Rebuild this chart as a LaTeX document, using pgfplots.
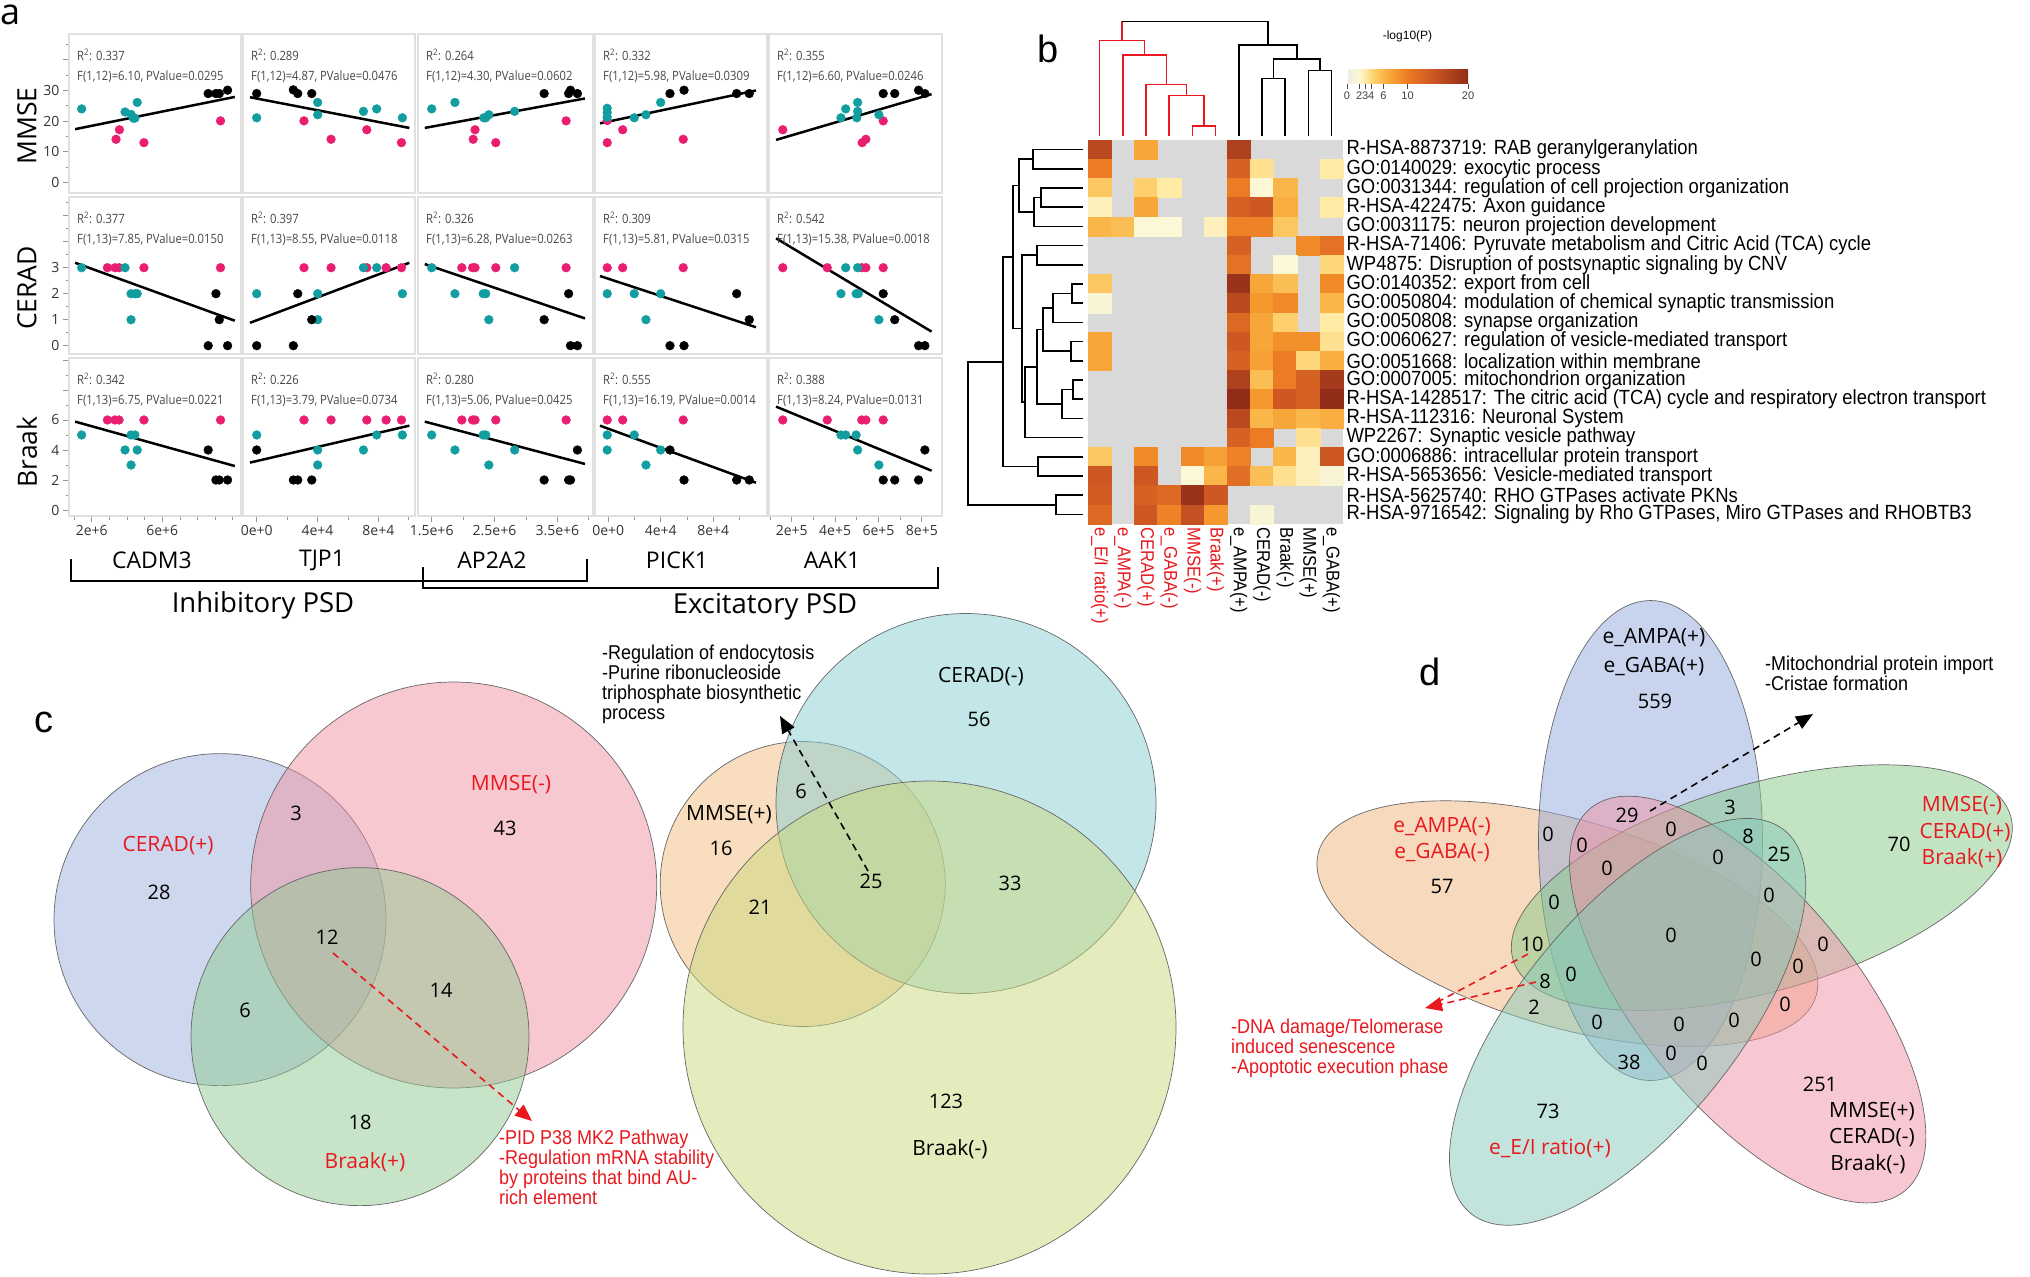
\documentclass[border=0pt]{standalone}
\usepackage{fontspec}
\setmainfont{Open Sans}
\newfontfamily\arialf{Liberation Sans}
\newfontfamily\narrowf[FakeStretch=0.9]{Liberation Sans}
\newfontfamily\statf[FakeStretch=0.88]{Open Sans}
\usepackage{pgfplots}
\pgfplotsset{compat=1.18}
\usetikzlibrary{arrows.meta}

\newcommand{\fs}[1]{\fontsize{#1}{#1}\selectfont}

\definecolor{dteal}{RGB}{18,158,160}
\definecolor{dpink}{RGB}{234,30,112}
\definecolor{framec}{RGB}{224,224,224}
\definecolor{tickc}{RGB}{150,150,150}
\definecolor{statc}{RGB}{70,70,70}
\definecolor{hmgray}{RGB}{217,217,217}
\definecolor{vred}{RGB}{232,24,30}
% venn c
\definecolor{cBlue}{RGB}{155,175,221}
\definecolor{cPink}{RGB}{239,145,161}
\definecolor{cGreen}{RGB}{145,201,145}
\definecolor{cOrange}{RGB}{241,189,125}
\definecolor{cTeal}{RGB}{135,205,209}
\definecolor{cYG}{RGB}{201,217,125}
% venn d
\definecolor{dBlue}{RGB}{145,169,221}
\definecolor{dOrange}{RGB}{239,181,125}
\definecolor{dGreen}{RGB}{135,201,135}
\definecolor{dPink}{RGB}{241,145,165}
\definecolor{dTeal}{RGB}{135,201,185}

\tikzset{vs/.style={draw=black!60, line width=0.7pt, fill opacity=0.5}}

\pgfplotsset{
  colormap={hm}{rgb255(0pt)=(238,238,226) rgb255(2pt)=(252,247,212) rgb255(3pt)=(255,234,166)
    rgb255(4pt)=(254,215,122) rgb255(6pt)=(250,182,72) rgb255(8pt)=(245,152,45)
    rgb255(10pt)=(235,123,36) rgb255(14pt)=(206,88,35) rgb255(20pt)=(145,44,25)},
  sc/.style={scale only axis, anchor=north west,
    axis line style={draw=framec, line width=1.8pt},
    tick pos=left, tick align=outside, xtick=\empty, ytick=\empty,
    tick style={draw=tickc, line width=0.8pt}, major tick length=6pt, minor tick length=3.5pt,
    ticklabel style={font={\fs{14}}, text=black!80},
    scaled ticks=false, clip=false},
  rA/.style={ymin=-3.4, ymax=48.4, height=159pt},
  rB/.style={ymin=-0.32, ymax=5.72, height=157pt},
  rC/.style={ymin=-0.4, ymax=10.13, height=158pt},
  yA/.style={ytick={0,10,20,30,40}, yticklabels={0,10,20,30,}, minor ytick={5,15,25,35,45}},
  yB/.style={ytick={0,1,2,3,4,5}, yticklabels={0,1,2,3,,}, minor ytick={0.5,1.5,2.5,3.5,4.5,5.5}},
  yC/.style={ytick={0,2,4,6,8,10}, yticklabels={0,2,4,6,,}, minor ytick={1,3,5,7,9}},
  c1/.style={xmin=0.714e6, xmax=10.46e6, width=172pt},
  c2/.style={xmin=-0.90e4, xmax=10.41e4, width=172pt},
  c3/.style={xmin=1.282e6, xmax=4.068e6, width=175pt},
  c4/.style={xmin=-1.01e4, xmax=12.09e4, width=172pt},
  c5/.style={xmin=0.954e5, xmax=8.93e5, width=173pt},
  x1/.style={xtick={2e6,6e6}, xticklabels={2e+6,6e+6}, minor xtick={1e6,3e6,4e6,5e6,7e6,8e6,9e6,10e6}},
  x2/.style={xtick={0,4e4,8e4}, xticklabels={0e+0,4e+4,8e+4}, minor xtick={2e4,6e4,10e4}},
  x3/.style={xtick={1.5e6,2.5e6,3.5e6}, xticklabels={1.5e+6,2.5e+6,3.5e+6}, minor xtick={2e6,3e6,4e6}},
  x4/.style={xtick={0,4e4,8e4}, xticklabels={0e+0,4e+4,8e+4}, minor xtick={2e4,6e4,10e4}},
  x5/.style={xtick={2e5,4e5,6e5,8e5}, xticklabels={2e+5,4e+5,6e+5,8e+5}, minor xtick={1e5,3e5,5e5,7e5}},
  tm/.style={only marks, mark=*, mark size=4.4pt, color=dteal},
  pm/.style={only marks, mark=*, mark size=4.4pt, color=dpink},
  bm/.style={only marks, mark=*, mark size=4.4pt, color=black},
  fit/.style={black, line width=2.5pt, mark=none},
  dred/.style={vred, line width=1.6pt, mark=none},
  dblk/.style={black, line width=1.5pt, mark=none},
}

\newcommand{\stat}[2]{%
  \node[anchor=west, inner sep=0pt, font={\statf\fs{12.8}}, text=statc, xshift=8pt, yshift=-21pt] at (rel axis cs:0,1) {R\textsuperscript{2}: #1};
  \node[anchor=west, inner sep=0pt, font={\statf\fs{12.8}}, text=statc, xshift=8pt, yshift=-43pt] at (rel axis cs:0,1) {#2};}

\begin{document}
\begin{tikzpicture}
\useasboundingbox (0pt,0pt) rectangle (2030pt,-1277pt);

% ---------- canvas: pixel coordinates for panels c, d, dendrograms, labels
\begin{axis}[at={(0pt,0pt)}, anchor=north west, scale only axis, width=2030pt, height=1277pt,
  xmin=0, xmax=2030, ymin=0, ymax=1277, y dir=reverse, hide axis, clip=false]

% panel letters
\node[font={\fs{36}}, anchor=base west, inner sep=0pt] at (axis cs:0,24) {a};
\node[font={\arialf\fs{38}}] at (axis cs:1048,49) {b};
\node[font={\arialf\fs{38}}] at (axis cs:44,722) {c};
\node[font={\arialf\fs{38}}] at (axis cs:1430,672) {d};

% panel a side and bottom labels
\node[rotate=90, font={\fs{26.5}}] at (axis cs:27,126) {MMSE};
\node[rotate=90, font={\fs{26.5}}] at (axis cs:27,288) {CERAD};
\node[rotate=90, font={\fs{26.5}}] at (axis cs:27,452) {Braak};
\node[font={\fs{23}}] at (axis cs:152,560) {CADM3};
\node[font={\fs{23}}] at (axis cs:322,560) {TJP1};
\node[font={\fs{23}}] at (axis cs:492,560) {AP2A2};
\node[font={\fs{23}}] at (axis cs:677,560) {PICK1};
\node[font={\fs{23}}] at (axis cs:832,560) {AAK1};
\draw[line width=1.6pt] (axis cs:71,559) -- (axis cs:71,581) -- (axis cs:587,581) -- (axis cs:587,559);
\draw[line width=1.6pt] (axis cs:423,567) -- (axis cs:423,588) -- (axis cs:938,588) -- (axis cs:938,567);
\node[font={\fs{27.5}}] at (axis cs:263,605) {Inhibitory PSD};
\node[font={\fs{27.5}}] at (axis cs:765,607) {Excitatory PSD};

% panel b column dendrogram
\addplot[dred] coordinates {(1192.4,136) (1192.4,125.7) (1215.6,125.7) (1215.6,136)};
\addplot[dred] coordinates {(1169.2,136) (1169.2,95.4) (1204,95.4) (1204,125.7)};
\addplot[dred] coordinates {(1146,136) (1146,84.4) (1186.6,84.4) (1186.6,95.4)};
\addplot[dred] coordinates {(1122.8,136) (1122.8,55.1) (1166.3,55.1) (1166.3,84.4)};
\addplot[dred] coordinates {(1099.6,136) (1099.6,40.6) (1144.55,40.6) (1144.55,55.1)};
\addplot[dred] coordinates {(1122.1,40.6) (1122.1,21.3)};
\addplot[dblk] coordinates {(1262,136) (1262,78.5) (1285.2,78.5) (1285.2,136)};
\addplot[dblk] coordinates {(1308.4,136) (1308.4,70.6) (1331.6,70.6) (1331.6,136)};
\addplot[dblk] coordinates {(1273.6,78.5) (1273.6,59.2) (1320,59.2) (1320,70.6)};
\addplot[dblk] coordinates {(1238.8,136) (1238.8,44.8) (1296.8,44.8) (1296.8,59.2)};
\addplot[dblk] coordinates {(1122.1,21.3) (1267.8,21.3) (1267.8,44.8)};

% panel b row dendrogram
\addplot[dblk] coordinates {(1083,149.6) (1033,149.6) (1033,168.8) (1083,168.8)};
\addplot[dblk] coordinates {(1083,188) (1041,188) (1041,207.2) (1083,207.2)};
\addplot[dblk] coordinates {(1041,197.6) (1034,197.6) (1034,226.4) (1083,226.4)};
\addplot[dblk] coordinates {(1033,159.2) (1019,159.2) (1019,212) (1034,212)};
\addplot[dblk] coordinates {(1083,245.6) (1037,245.6) (1037,264.8) (1083,264.8)};
\addplot[dblk] coordinates {(1083,284) (1072,284) (1072,303.2) (1083,303.2)};
\addplot[dblk] coordinates {(1072,293.6) (1053,293.6) (1053,322.4) (1083,322.4)};
\addplot[dblk] coordinates {(1083,341.6) (1071,341.6) (1071,360.8) (1083,360.8)};
\addplot[dblk] coordinates {(1053,308) (1043,308) (1043,351.2) (1071,351.2)};
\addplot[dblk] coordinates {(1083,380) (1073,380) (1073,399.2) (1083,399.2)};
\addplot[dblk] coordinates {(1073,389.6) (1062,389.6) (1062,418.4) (1083,418.4)};
\addplot[dblk] coordinates {(1043,329.6) (1037,329.6) (1037,404) (1062,404)};
\addplot[dblk] coordinates {(1037,366.8) (1025,366.8) (1025,437.6) (1083,437.6)};
\addplot[dblk] coordinates {(1037,255.2) (1022,255.2) (1022,402.2) (1025,402.2)};
\addplot[dblk] coordinates {(1019,185.6) (1013,185.6) (1013,328.7) (1022,328.7)};
\addplot[dblk] coordinates {(1083,456.8) (1038,456.8) (1038,476) (1083,476)};
\addplot[dblk] coordinates {(1013,257.2) (1003,257.2) (1003,466.4) (1038,466.4)};
\addplot[dblk] coordinates {(1083,495.2) (1056,495.2) (1056,514.4) (1083,514.4)};
\addplot[dblk] coordinates {(1003,361.8) (968,361.8) (968,504.8) (1056,504.8)};

% ---------- panel c, left venn
\filldraw[vs, fill=cBlue] (axis cs:220,919.6) circle [radius=166pt];
\filldraw[vs, fill=cPink] (axis cs:453.7,885) circle [radius=203pt];
\filldraw[vs, fill=cGreen] (axis cs:360,1036.6) circle [radius=169pt];
\begin{scope}[font={\fs{21}}]
\node[text=vred] at (axis cs:168,846) {CERAD(+)};
\node[text=vred] at (axis cs:511,785) {MMSE(-)};
\node[text=vred] at (axis cs:365,1162) {Braak(+)};
\end{scope}
\begin{scope}[font={\fs{20}}]
\node at (axis cs:159,892) {28};
\node at (axis cs:296,813) {3};
\node at (axis cs:505,828) {43};
\node at (axis cs:327,937) {12};
\node at (axis cs:441,990) {14};
\node at (axis cs:245,1010) {6};
\node at (axis cs:360,1122) {18};
\end{scope}
\draw[vred, line width=1.6pt, dash pattern=on 7pt off 5pt, -{Triangle[length=17pt,width=14pt]}]
  (axis cs:333,953) -- (axis cs:532,1121);
\node[anchor=north west, align=left, text=vred, font={\narrowf\fs{20}}, inner sep=0pt]
  at (axis cs:499,1130) {-PID P38 MK2 Pathway\\-Regulation mRNA stability\\by proteins that bind AU-\\rich element};

% panel c, right venn
\filldraw[vs, fill=cOrange] (axis cs:802.7,884) circle [radius=142.5pt];
\filldraw[vs, fill=cTeal] (axis cs:966,803.5) circle [radius=190pt];
\filldraw[vs, fill=cYG] (axis cs:929.5,1027.5) circle [radius=246.5pt];
\begin{scope}[font={\fs{21}}]
\node at (axis cs:981,677) {CERAD(-)};
\node at (axis cs:729,815) {MMSE(+)};
\node at (axis cs:950,1149) {Braak(-)};
\end{scope}
\begin{scope}[font={\fs{20}}]
\node at (axis cs:979,719) {56};
\node at (axis cs:721,848) {16};
\node at (axis cs:801,791) {6};
\node at (axis cs:760,907) {21};
\node at (axis cs:871,881) {25};
\node at (axis cs:1010,883) {33};
\node at (axis cs:946,1101) {123};
\end{scope}
\draw[black, line width=1.6pt, dash pattern=on 7pt off 5pt, -{Triangle[length=17pt,width=14pt]}]
  (axis cs:868,871) -- (axis cs:780,716);
\node[anchor=north west, align=left, font={\narrowf\fs{20}}, inner sep=0pt]
  at (axis cs:602,645) {-Regulation of endocytosis\\-Purine ribonucleoside\\triphosphate biosynthetic\\process};

% ---------- panel d, five ellipses
\filldraw[vs, fill=dOrange, rotate around={-16.1:(axis cs:1567.4,923.6)}] (axis cs:1567.4,923.6) ellipse [x radius=259pt, y radius=103.7pt];
\filldraw[vs, fill=dBlue] (axis cs:1650.5,840.5) ellipse [x radius=112pt, y radius=240pt];
\filldraw[vs, fill=dGreen, rotate around={16.1:(axis cs:1761.8,887.6)}] (axis cs:1761.8,887.6) ellipse [x radius=259pt, y radius=103.7pt];
\filldraw[vs, fill=dPink, rotate around={-50.6:(axis cs:1747.7,999.5)}] (axis cs:1747.7,999.5) ellipse [x radius=247.6pt, y radius=108.5pt];
\filldraw[vs, fill=dTeal, rotate around={50.6:(axis cs:1627.6,1021.8)}] (axis cs:1627.6,1021.8) ellipse [x radius=247.6pt, y radius=108.5pt];
\begin{scope}[font={\fs{21}}]
\node at (axis cs:1654,638) {e\_AMPA(+)};
\node at (axis cs:1654,667) {e\_GABA(+)};
\node[text=vred] at (axis cs:1962,806) {MMSE(-)};
\node[text=vred] at (axis cs:1965,833) {CERAD(+)};
\node[text=vred] at (axis cs:1962,858) {Braak(+)};
\node[text=vred] at (axis cs:1442,827) {e\_AMPA(-)};
\node[text=vred] at (axis cs:1442,853) {e\_GABA(-)};
\node at (axis cs:1872,1112) {MMSE(+)};
\node at (axis cs:1872,1138) {CERAD(-)};
\node at (axis cs:1868,1164) {Braak(-)};
\node[text=vred] at (axis cs:1550,1148) {e\_E/I ratio(+)};
\end{scope}
\begin{scope}[font={\fs{20}}]
\node at (axis cs:1655,701) {559};
\node at (axis cs:1627,815) {29};
\node at (axis cs:1671,829) {0};
\node at (axis cs:1730,807) {3};
\node at (axis cs:1748,836) {8};
\node at (axis cs:1779,854) {25};
\node at (axis cs:1718,857) {0};
\node at (axis cs:1899,844) {70};
\node at (axis cs:1442,886) {57};
\node at (axis cs:1548,834) {0};
\node at (axis cs:1582,845) {0};
\node at (axis cs:1607,868) {0};
\node at (axis cs:1769,895) {0};
\node at (axis cs:1554,902) {0};
\node at (axis cs:1671,935) {0};
\node at (axis cs:1532,944) {10};
\node at (axis cs:1823,944) {0};
\node at (axis cs:1756,959) {0};
\node at (axis cs:1798,966) {0};
\node at (axis cs:1545,981) {8};
\node at (axis cs:1571,974) {0};
\node at (axis cs:1534,1007) {2};
\node at (axis cs:1785,1004) {0};
\node at (axis cs:1597,1022) {0};
\node at (axis cs:1679,1024) {0};
\node at (axis cs:1734,1020) {0};
\node at (axis cs:1629,1062) {38};
\node at (axis cs:1671,1053) {0};
\node at (axis cs:1702,1063) {0};
\node at (axis cs:1820,1084) {251};
\node at (axis cs:1548,1111) {73};
\end{scope}
\draw[black, line width=1.6pt, dash pattern=on 7pt off 5pt, -{Triangle[length=17pt,width=14pt]}]
  (axis cs:1650,811) -- (axis cs:1813,714);
\draw[vred, line width=1.6pt, dash pattern=on 7pt off 5pt] (axis cs:1528,954) -- (axis cs:1430,1006);
\draw[vred, line width=1.6pt, dash pattern=on 7pt off 5pt, -{Triangle[length=17pt,width=14pt]}]
  (axis cs:1536,982) -- (axis cs:1425,1008);
\node[anchor=north west, align=left, font={\narrowf\fs{20}}, inner sep=0pt]
  at (axis cs:1765,656) {-Mitochondrial protein import\\-Cristae formation};
\node[anchor=north west, align=left, text=vred, font={\narrowf\fs{20}}, inner sep=0pt]
  at (axis cs:1231,1019) {-DNA damage/Telomerase\\induced senescence\\-Apoptotic execution phase};
\end{axis}

% ---------- panel a: row 1 (MMSE)
\begin{axis}[sc, rA, c1, yA, at={(69pt,-34pt)}]
\addplot[fit] coordinates {(1.06e6,17.4) (10.11e6,27.9)};
\addplot[pm] coordinates {(3.57e6,17.2) (3.38e6,14.1) (4.96e6,13.0) (9.30e6,20.1)};
\addplot[tm] coordinates {(1.43e6,24.0) (3.89e6,23.0) (4.23e6,22.2) (4.45e6,21.0) (4.58e6,26.1) (4.36e6,21.0)};
\addplot[bm] coordinates {(8.60e6,29.0) (9.04e6,29.0) (9.23e6,29.0) (9.70e6,30.1)};
\stat{0.337}{F(1,12)=6.10, PValue=0.0295}
\end{axis}
\begin{axis}[sc, rA, c2, at={(243pt,-34pt)}]
\addplot[fit] coordinates {(-0.44e4,27.8) (10.04e4,17.8)};
\addplot[pm] coordinates {(3.11e4,20.1) (4.89e4,14.1) (7.24e4,17.2) (9.52e4,13.0)};
\addplot[tm] coordinates {(0,21.1) (4.01e4,26.1) (4.01e4,22.1) (7.02e4,23.2) (7.89e4,24.0) (9.58e4,21.1)};
\addplot[bm] coordinates {(0,29.0) (2.41e4,30.2) (2.70e4,29.0) (3.62e4,29.0)};
\stat{0.289}{F(1,12)=4.87, PValue=0.0476}
\end{axis}
\begin{axis}[sc, rA, c3, at={(418pt,-34pt)}]
\addplot[fit] coordinates {(1.39e6,17.8) (3.94e6,27.4)};
\addplot[pm] coordinates {(2.19e6,17.2) (2.16e6,14.1) (2.52e6,13.0) (3.64e6,20.1)};
\addplot[tm] coordinates {(1.50e6,24.0) (1.87e6,26.1) (2.33e6,21.1) (2.36e6,21.1) (2.41e6,22.1) (2.82e6,23.2)};
\addplot[bm] coordinates {(3.29e6,29.0) (3.68e6,29.0) (3.71e6,30.1) (3.82e6,29.0)};
\stat{0.264}{F(1,12)=4.30, PValue=0.0602}
\end{axis}
\begin{axis}[sc, rA, c4, at={(595pt,-34pt)}]
\addplot[fit] coordinates {(-0.63e4,19.3) (11.25e4,30.0)};
\addplot[pm] coordinates {(-0.08e4,20.2) (-0.08e4,13.0) (1.10e4,17.2) (5.71e4,14.1)};
\addplot[tm] coordinates {(-0.08e4,24.2) (-0.08e4,22.8) (-0.08e4,21.3) (1.98e4,21.1) (2.87e4,22.1) (3.99e4,26.1)};
\addplot[bm] coordinates {(4.70e4,29.0) (5.77e4,30.1) (9.78e4,29.0) (10.74e4,29.0)};
\stat{0.332}{F(1,12)=5.98, PValue=0.0309}
\end{axis}
\begin{axis}[sc, rA, c5, at={(769pt,-34pt)}]
\addplot[fit] coordinates {(1.28e5,13.9) (8.45e5,28.8)};
\addplot[pm] coordinates {(1.59e5,17.2) (6.22e5,20.1) (5.25e5,13.0) (5.42e5,14.1)};
\addplot[tm] coordinates {(4.27e5,21.1) (4.49e5,24.0) (5.04e5,26.1) (5.04e5,23.2) (5.00e5,21.1) (6.02e5,22.1)};
\addplot[bm] coordinates {(6.22e5,29.0) (6.75e5,29.0) (7.85e5,30.1) (8.14e5,29.0)};
\stat{0.355}{F(1,12)=6.60, PValue=0.0246}
\end{axis}

% row 2 (CERAD)
\begin{axis}[sc, rB, c1, yB, at={(69pt,-197pt)}]
\addplot[fit] coordinates {(1.06e6,3.19) (10.11e6,0.96)};
\addplot[pm] coordinates {(2.89e6,3) (3.32e6,3) (3.55e6,3) (4.96e6,3) (9.30e6,3)};
\addplot[tm] coordinates {(1.43e6,3) (3.89e6,3) (4.23e6,2) (4.45e6,2) (4.58e6,2) (4.23e6,1)};
\addplot[bm] coordinates {(9.04e6,2) (9.23e6,1) (8.60e6,0) (9.70e6,0)};
\stat{0.377}{F(1,13)=7.85, PValue=0.0150}
\end{axis}
\begin{axis}[sc, rB, c2, at={(243pt,-197pt)}]
\addplot[fit] coordinates {(-0.44e4,0.88) (10.04e4,3.19)};
\addplot[pm] coordinates {(3.11e4,3) (4.89e4,3) (7.24e4,3) (8.51e4,3) (9.52e4,3)};
\addplot[tm] coordinates {(0,2) (4.01e4,2) (4.01e4,1) (7.02e4,3) (7.89e4,3) (9.58e4,2)};
\addplot[bm] coordinates {(0,0) (2.41e4,0) (2.70e4,2) (3.62e4,1)};
\stat{0.397}{F(1,13)=8.55, PValue=0.0118}
\end{axis}
\begin{axis}[sc, rB, c3, at={(418pt,-197pt)}]
\addplot[fit] coordinates {(1.39e6,3.14) (3.94e6,1.05)};
\addplot[pm] coordinates {(1.98e6,3) (2.15e6,3) (2.19e6,3) (2.52e6,3) (3.64e6,3)};
\addplot[tm] coordinates {(1.50e6,3) (1.87e6,2) (2.32e6,2) (2.36e6,2) (2.41e6,1) (2.82e6,3)};
\addplot[bm] coordinates {(3.68e6,2) (3.29e6,1) (3.71e6,0) (3.82e6,0)};
\stat{0.326}{F(1,13)=6.28, PValue=0.0263}
\end{axis}
\begin{axis}[sc, rB, c4, at={(595pt,-197pt)}]
\addplot[fit] coordinates {(-0.63e4,2.68) (11.25e4,0.71)};
\addplot[pm] coordinates {(-0.08e4,3) (1.10e4,3) (5.71e4,3)};
\addplot[tm] coordinates {(-0.08e4,2) (1.98e4,2) (3.99e4,2) (2.87e4,1)};
\addplot[bm] coordinates {(9.78e4,2) (10.74e4,1) (4.70e4,0) (5.77e4,0)};
\stat{0.309}{F(1,13)=5.81, PValue=0.0315}
\end{axis}
\begin{axis}[sc, rB, c5, at={(769pt,-197pt)}]
\addplot[fit] coordinates {(1.28e5,4.13) (8.45e5,0.54)};
\addplot[pm] coordinates {(1.59e5,3) (3.64e5,3) (5.23e5,3) (5.42e5,3) (6.22e5,3)};
\addplot[tm] coordinates {(4.49e5,3) (5.04e5,3) (4.27e5,2) (4.97e5,2) (5.07e5,2) (6.02e5,1)};
\addplot[bm] coordinates {(6.22e5,2) (6.75e5,1) (7.85e5,0) (8.14e5,0)};
\stat{0.542}{F(1,13)=15.38, PValue=0.0018}
\end{axis}

% row 3 (Braak)
\begin{axis}[sc, rC, c1, yC, x1, at={(69pt,-358pt)}]
\addplot[fit] coordinates {(1.06e6,5.89) (10.11e6,2.93)};
\addplot[pm] coordinates {(2.89e6,6) (3.32e6,6) (3.55e6,6) (4.96e6,6) (9.30e6,6)};
\addplot[tm] coordinates {(1.43e6,5) (3.89e6,4) (4.23e6,5) (4.45e6,5) (4.23e6,3) (4.58e6,4)};
\addplot[bm] coordinates {(8.60e6,4) (9.04e6,2) (9.23e6,2) (9.70e6,2)};
\stat{0.342}{F(1,13)=6.75, PValue=0.0221}
\end{axis}
\begin{axis}[sc, rC, c2, x2, at={(243pt,-358pt)}]
\addplot[fit] coordinates {(-0.44e4,3.16) (10.04e4,5.62)};
\addplot[pm] coordinates {(3.11e4,6) (4.89e4,6) (7.24e4,6) (8.51e4,6) (9.52e4,6)};
\addplot[tm] coordinates {(0,5) (4.01e4,4) (4.01e4,3) (7.02e4,4) (7.89e4,5) (9.58e4,5)};
\addplot[bm] coordinates {(0,4) (2.41e4,2) (2.70e4,2) (3.62e4,2)};
\stat{0.226}{F(1,13)=3.79, PValue=0.0734}
\end{axis}
\begin{axis}[sc, rC, c3, x3, at={(418pt,-358pt)}]
\addplot[fit] coordinates {(1.39e6,5.89) (3.94e6,3.07)};
\addplot[pm] coordinates {(1.98e6,6) (2.15e6,6) (2.19e6,6) (2.52e6,6) (3.64e6,6)};
\addplot[tm] coordinates {(1.50e6,5) (1.87e6,4) (2.32e6,5) (2.36e6,5) (2.41e6,3) (2.82e6,4)};
\addplot[bm] coordinates {(3.82e6,4) (3.29e6,2) (3.68e6,2) (3.71e6,2)};
\stat{0.280}{F(1,13)=5.06, PValue=0.0425}
\end{axis}
\begin{axis}[sc, rC, c4, x4, at={(595pt,-358pt)}]
\addplot[fit] coordinates {(-0.63e4,5.62) (11.25e4,1.82)};
\addplot[pm] coordinates {(-0.08e4,6) (1.10e4,6) (5.71e4,6)};
\addplot[tm] coordinates {(-0.08e4,5) (-0.08e4,4) (1.98e4,5) (3.99e4,4) (2.87e4,3)};
\addplot[bm] coordinates {(4.70e4,4) (5.77e4,2) (9.78e4,2) (10.74e4,2)};
\stat{0.555}{F(1,13)=16.19, PValue=0.0014}
\end{axis}
\begin{axis}[sc, rC, c5, x5, at={(769pt,-358pt)}]
\addplot[fit] coordinates {(1.28e5,6.89) (8.45e5,2.62)};
\addplot[pm] coordinates {(1.59e5,6) (3.64e5,6) (5.23e5,6) (5.42e5,6) (6.22e5,6)};
\addplot[tm] coordinates {(4.27e5,5) (4.49e5,5) (4.97e5,5) (5.04e5,4) (6.02e5,3)};
\addplot[bm] coordinates {(8.14e5,4) (6.22e5,2) (6.75e5,2) (7.85e5,2)};
\stat{0.388}{F(1,13)=8.24, PValue=0.0131}
\end{axis}

% ---------- panel b heatmap (y = 21 - row)
\begin{axis}[at={(1088pt,-140pt)}, anchor=north west, scale only axis, width=255pt, height=384pt,
  xmin=0.5, xmax=11.5, ymin=0.5, ymax=20.5,
  axis background/.style={fill=hmgray},
  axis line style={draw=none}, major tick length=0pt, tick style={draw=none},
  xtick={1,...,11}, ytick={1,...,20},
  xticklabels={\textcolor{vred}{e\_E/I ratio(+)}, \textcolor{vred}{e\_AMPA(-)}, \textcolor{vred}{CERAD(+)},
    \textcolor{vred}{e\_GABA(-)}, \textcolor{vred}{MMSE(-)}, \textcolor{vred}{Braak(+)},
    e\_AMPA(+), CERAD(-), Braak(-), MMSE(+), e\_GABA(+)},
  yticklabels={{R-HSA-9716542: Signaling by Rho GTPases, Miro GTPases and RHOBTB3},
    R-HSA-5625740: RHO GTPases activate PKNs,
    R-HSA-5653656: Vesicle-mediated transport,
    GO:0006886: intracellular protein transport,
    WP2267: Synaptic vesicle pathway,
    R-HSA-112316: Neuronal System,
    R-HSA-1428517: The citric acid (TCA) cycle and respiratory electron transport,
    GO:0007005: mitochondrion organization,
    GO:0051668: localization within membrane,
    GO:0060627: regulation of vesicle-mediated transport,
    GO:0050808: synapse organization,
    GO:0050804: modulation of chemical synaptic transmission,
    GO:0140352: export from cell,
    WP4875: Disruption of postsynaptic signaling by CNV,
    R-HSA-71406: Pyruvate metabolism and Citric Acid (TCA) cycle,
    GO:0031175: neuron projection development,
    R-HSA-422475: Axon guidance,
    GO:0031344: regulation of cell projection organization,
    GO:0140029: exocytic process,
    R-HSA-8873719: RAB geranylgeranylation},
  yticklabel pos=right,
  xticklabel style={rotate=-90, anchor=west, font={\narrowf\fs{18.5}}},
  yticklabel style={anchor=west, font={\narrowf\fs{20.5}}},
  colormap name=hm, point meta min=0, point meta max=20,
  colorbar horizontal,
  colorbar style={at={(parent axis.north east)}, anchor=south west, xshift=4pt, yshift=65pt,
    scale only axis, width=121pt, height=31pt,
    xtick={0,2,3,4,6,10,20}, xticklabels={0,2,3,4,6,10,20},
    xtick pos=left, xticklabel pos=left,
    xticklabel style={font={\arialf\fs{11}}, text=black!75},
    xtick style={draw=black!70, line width=0.7pt}, major tick length=5pt, tick align=outside,
    axis line style={draw=none},
    title={-log10(P)}, title style={font={\arialf\fs{12}}, at={(0.5,1)}, anchor=south, yshift=1pt}},
]
\addplot[scatter, only marks, mark=square*, mark size=9.6pt, point meta=explicit,
  scatter/use mapped color={draw=mapped color, fill=mapped color},
  mark options={xscale=1.208, line width=0.3pt}]
  table[x=c, y expr=21-\thisrow{r}, meta=v] {
c r v
1 1 16
3 1 7
7 1 17
1 2 10
7 2 13
8 2 3.5
11 2 3
1 3 5
3 3 4.5
4 3 3
7 3 10
8 3 2
9 3 6
1 4 2.5
3 4 7
7 4 13
8 4 14
9 4 6.5
11 4 3
1 5 6
2 5 5.5
3 5 2
4 5 2
6 5 2.5
7 5 9.5
8 5 9.5
9 5 5
7 6 13
10 6 9
11 6 11
7 7 11
9 7 2
11 7 4
1 8 5
7 8 19
8 8 7
9 8 5.5
11 8 9
1 9 1.5
7 9 16
8 9 8
9 9 9
11 9 6
7 10 12
8 10 7
9 10 4.5
11 10 3
1 11 7
7 11 14
8 11 7
9 11 8.5
10 11 8.5
11 11 3.5
1 12 7
7 12 13
8 12 7.5
9 12 10
10 12 4
11 12 6.5
7 13 17
8 13 5.5
9 13 10
10 13 13
11 13 18
7 14 20
8 14 8
9 14 14
10 14 13
11 14 20
7 15 16
8 15 6
9 15 7
10 15 6
11 15 6.5
7 16 13
8 16 10
10 16 3.5
1 17 5
3 17 9
5 17 9
6 17 7.5
7 17 9.5
9 17 6
10 17 2.5
11 17 14
1 18 14
3 18 14
5 18 2
6 18 6
7 18 11.5
8 18 5.5
9 18 3.5
10 18 2.5
11 18 1.5
1 19 13.5
3 19 13
4 19 12
5 19 19
6 19 14
1 20 12
3 20 14
4 20 9.5
5 20 15
6 20 8
8 20 1.5
};
\end{axis}
\end{tikzpicture}
\end{document}
